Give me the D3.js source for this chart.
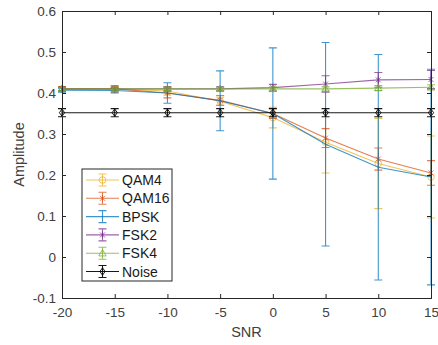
<!DOCTYPE html>
<html><head><meta charset="utf-8">
<script src="https://cdn.jsdelivr.net/npm/d3@7"></script>
<style>body{margin:0;background:#fff}svg{display:block;font-family:"Liberation Sans",Arial,sans-serif}</style>
</head><body><svg id="c" width="438" height="345"></svg>
<script>
const snr = [-20,-15,-10,-5,0,5,10,15];
const seriesNames = ["QAM4","QAM16","BPSK","FSK2","FSK4","Noise"];
const qam4 = [0.410,0.410,0.405,0.380,0.340,0.280,0.228,0.195];
const qam4Err = [0.006,0.006,0.010,0.010,0.025,0.075,0.110,0.100];
const qam16 = [0.410,0.410,0.400,0.382,0.350,0.290,0.239,0.205];
const qam16Err = [0.006,0.008,0.012,0.012,0.012,0.023,0.027,0.030];
const bpsk = [0.407,0.406,0.400,0.381,0.350,0.275,0.219,0.195];
const bpskErr = [0.005,0.006,0.025,0.073,0.160,0.248,0.275,0.263];
const fsk2 = [0.410,0.410,0.410,0.410,0.413,0.422,0.432,0.433];
const fsk2Err = [0.004,0.004,0.005,0.005,0.008,0.020,0.018,0.022];
const fsk4 = [0.410,0.410,0.410,0.410,0.410,0.410,0.412,0.414];
const fsk4Err = [0.004,0.004,0.004,0.004,0.005,0.005,0.006,0.006];
const noise = [0.352,0.352,0.352,0.352,0.352,0.352,0.352,0.352];
const noiseErr = [0.010,0.010,0.010,0.010,0.010,0.010,0.010,0.010];
const xTicks = [-20,-15,-10,-5,0,5,10,15];
const xTickLabels = ["-20","-15","-10","-5","0","5","10","15"];
const yTicks = [-0.1,0,0.1,0.2,0.3,0.4,0.5,0.6];
const yTickLabels = ["-0.1","0","0.1","0.2","0.3","0.4","0.5","0.6"];

const colors = ["#EDB120","#D95319","#0072BD","#7E2F8E","#77AC30","#000000"];
const markers = ["circle","asterisk","none","asterisk","triangle","diamond"];
const means = [qam4,qam16,bpsk,fsk2,fsk4,noise];
const errs = [qam4Err,qam16Err,bpskErr,fsk2Err,fsk4Err,noiseErr];

const L=62,R=431,T=11,B=298;
const svg=d3.select("#c");
const x=d3.scaleLinear().domain([-20,15]).range([L,R]);
const y=d3.scaleLinear().domain([-0.1,0.6]).range([B,T]);
const axisCol="#262626", textCol="#404040";

function markerPath(type,s){
  if(type==="circle") return d3.symbol(d3.symbolCircle, Math.PI*s*s)();
  if(type==="triangle"){const h=s*1.1;return `M0,${-h}L${h},${h*0.75}L${-h},${h*0.75}Z`;}
  if(type==="diamond") return `M0,${-s*1.1}L${s*0.8},0L0,${s*1.1}L${-s*0.8},0Z`;
  if(type==="asterisk"){const a=s*0.75;return `M0,${-s}V${s}M${-a},${-a}L${a},${a}M${-a},${a}L${a},${-a}`;}
  return "";
}

const plot=svg.append("g");
means.forEach((m,i)=>{
  const g=plot.append("g");
  const c=colors[i];
  const op = i===5?0.9:0.75;
  g.append("path").datum(m.map((v,k)=>[snr[k],v]))
   .attr("d",d3.line().x(d=>x(d[0])).y(d=>y(d[1])))
   .attr("fill","none").attr("stroke",c).attr("stroke-width",1.1).attr("opacity",op);
  snr.forEach((s,k)=>{
    const cx=x(s), lo=y(m[k]-errs[i][k]), hi=y(m[k]+errs[i][k]);
    g.append("path").attr("d",`M${cx},${lo}V${hi}M${cx-4},${lo}H${cx+4}M${cx-4},${hi}H${cx+4}`)
     .attr("stroke",c).attr("stroke-width",1.1).attr("fill","none").attr("opacity",op);
    if(markers[i]!=="none"){
      g.append("path").attr("transform",`translate(${cx},${y(m[k])})`)
       .attr("d",markerPath(markers[i],3.3)).attr("fill","none").attr("stroke",c).attr("stroke-width",1.0).attr("opacity",op);
    }
  });
});

// axes box
const ax=svg.append("g");
const xa=ax.append("g").attr("transform",`translate(0,${B})`)
  .call(d3.axisBottom(x).tickValues(xTicks).tickSize(-4).tickPadding(9).tickFormat((d,i)=>xTickLabels[i]));
const xt=ax.append("g").attr("transform",`translate(0,${T})`)
  .call(d3.axisTop(x).tickValues(xTicks).tickSize(-4).tickFormat(""));
const ya=ax.append("g").attr("transform",`translate(${L},0)`)
  .call(d3.axisLeft(y).tickValues(yTicks).tickSize(-4).tickPadding(6).tickFormat((d,i)=>yTickLabels[i]));
const yr=ax.append("g").attr("transform",`translate(${R},0)`)
  .call(d3.axisRight(y).tickValues(yTicks).tickSize(-4).tickFormat(""));
[xa,xt,ya,yr].forEach(g=>{
  g.select(".domain").attr("stroke",axisCol).attr("stroke-width",1);
  g.selectAll(".tick line").attr("stroke",axisCol);
  g.selectAll("text").attr("fill",textCol).style("font-size","13.5px").style("font-family","'Liberation Sans',Arial,sans-serif");
});

svg.append("text").attr("x",(L+R)/2).attr("y",337).attr("text-anchor","middle")
  .attr("fill",textCol).style("font-size","14.5px").text("SNR");
svg.append("text").attr("transform",`translate(24,${(T+B)/2}) rotate(-90)`).attr("text-anchor","middle")
  .attr("fill",textCol).style("font-size","14.5px").text("Amplitude");

// legend
const lg=svg.append("g");
lg.append("rect").attr("x",82).attr("y",169).attr("width",90).attr("height",112)
  .attr("fill","#fff").attr("stroke",axisCol).attr("stroke-width",1);
seriesNames.forEach((n,i)=>{
  const yy=180+i*18.3, c=colors[i];
  const op=i===5?0.9:0.75;
  lg.append("line").attr("x1",86).attr("x2",119).attr("y1",yy).attr("y2",yy).attr("stroke",c).attr("stroke-width",1.1).attr("opacity",op);
  lg.append("path").attr("d",`M102.5,${yy-6}V${yy+6}M${98.5},${yy-6}H${106.5}M${98.5},${yy+6}H${106.5}`)
    .attr("stroke",c).attr("stroke-width",1.1).attr("opacity",op);
  if(markers[i]!=="none")
    lg.append("path").attr("transform",`translate(102.5,${yy})`).attr("d",markerPath(markers[i],3.3))
      .attr("fill","none").attr("stroke",c).attr("stroke-width",1.0).attr("opacity",op);
  lg.append("text").attr("x",122).attr("y",yy+5).attr("fill","#1a1a1a").style("font-size","14px").text(n);
});
</script></body></html>
